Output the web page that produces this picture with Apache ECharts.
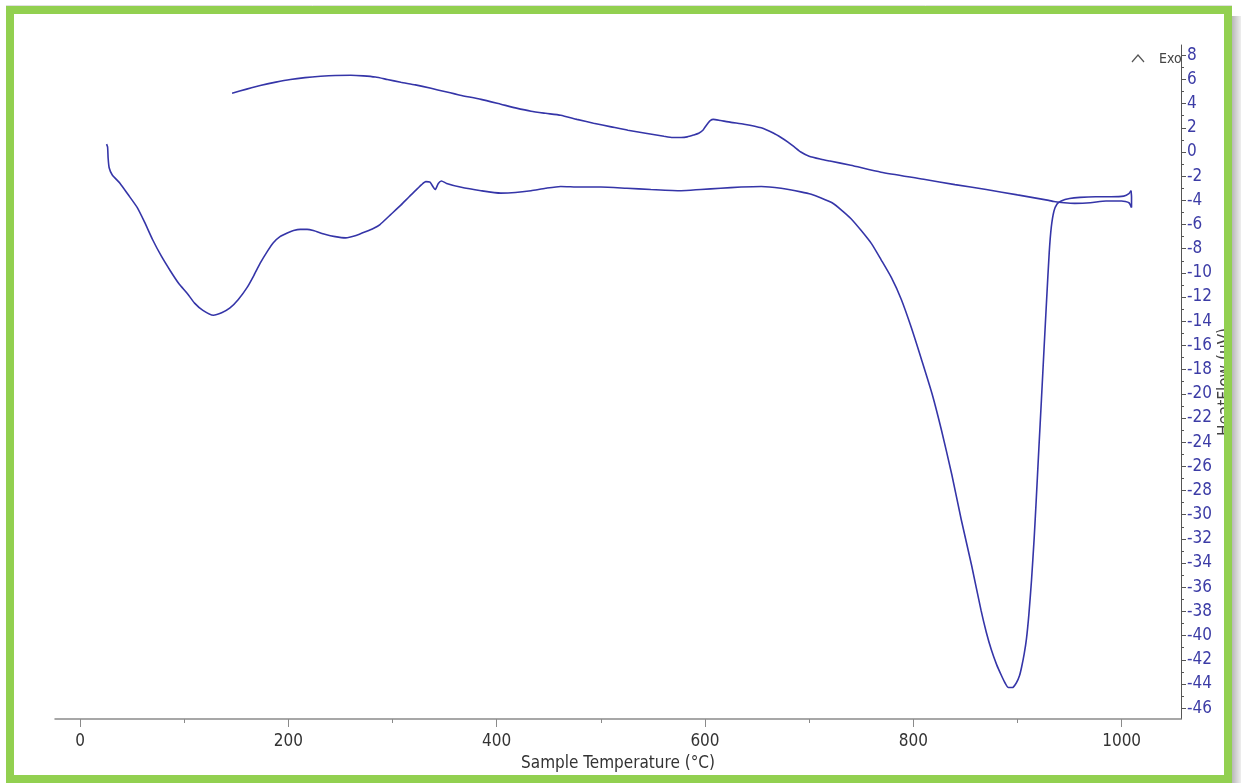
<!DOCTYPE html>
<html>
<head>
<meta charset="utf-8">
<script src="https://cdn.jsdelivr.net/npm/echarts@6/dist/echarts.min.js"></script>
<style>
html,body{margin:0;padding:0;background:#fff;}
#chart{width:1241px;height:783px;}
</style>
</head>
<body>
<div id="chart"></div>
<script>
// Heating segment (°C, µV)
const heatTemp = [25.5,26.5,27,28,31,38.5,46,55,62,70,78,86.5,95,103,110,118,128,136,144,152,160.5,167,173,180,185.6,192,199,205,211.5,218,224,235,245,255,265,274,282,288,298,308,316,322,328,332,336,341,344,347,352,365,385,404,418,433,447,461.5,480,500,525,548,577,596,615,634.6,654,673,692,702,711.5,722,731,740,750,760,769,779,788.5,798,808,818,827,837,846,856,865,870,875,880,884.6,888,891.3,895,899,902,904,906.5,908.6,911,913.5,916,918,920.5,923,925.5,928,930.5,932.5,935,938,942,950,960,975,990,1002,1007,1009];
const heatFlow = [0.65,0.4,-0.5,-1.3,-1.9,-2.6,-3.5,-4.6,-5.8,-7.3,-8.6,-9.8,-10.9,-11.7,-12.5,-13.1,-13.5,-13.3,-12.9,-12.2,-11.2,-10.2,-9.2,-8.2,-7.5,-7.0,-6.7,-6.5,-6.4,-6.4,-6.5,-6.8,-7.0,-7.1,-6.9,-6.6,-6.3,-6.0,-5.2,-4.4,-3.7,-3.2,-2.7,-2.45,-2.5,-3.1,-2.6,-2.4,-2.6,-2.9,-3.2,-3.4,-3.35,-3.2,-3.0,-2.85,-2.9,-2.9,-3.0,-3.1,-3.2,-3.1,-3.0,-2.9,-2.85,-3.0,-3.3,-3.5,-3.8,-4.2,-4.8,-5.5,-6.5,-7.6,-8.9,-10.4,-12.2,-14.5,-17.2,-20.0,-23,-26.7,-30.4,-34.2,-37.9,-39.7,-41.2,-42.4,-43.3,-43.9,-44.3,-44.3,-43.9,-43.3,-42.6,-41.5,-40.3,-38.2,-35.4,-32.0,-28.8,-24.6,-20.5,-16.3,-12.2,-8.3,-6.2,-4.9,-4.3,-4.05,-3.85,-3.75,-3.7,-3.7,-3.65,-3.45,-3.2];
// Cooling segment (°C, µV)
const coolTemp = [1009,1009.5,1009.5,1007,1000,985,970,955,945,935,930,900,870,840,810,769,740,720,711.5,700,692,686,680,673,666,654,637.5,625,615,608,605,603,600,598,594,589,583,577,569,560.6,543,526,510,493,477,461.5,447,433,418,404,385,365,350,337,322,308,295,283.6,272,260,245,231,216,202,188,173,160,146];
const coolFlow = [-3.2,-3.7,-4.6,-4.2,-4.05,-4.05,-4.2,-4.25,-4.2,-4.1,-4.0,-3.55,-3.1,-2.7,-2.25,-1.67,-1.1,-0.75,-0.6,-0.35,0.0,0.4,0.8,1.2,1.55,2.0,2.3,2.45,2.6,2.7,2.6,2.4,2.05,1.8,1.55,1.4,1.25,1.2,1.2,1.3,1.55,1.8,2.08,2.38,2.7,3.04,3.2,3.37,3.65,3.95,4.35,4.7,5.0,5.27,5.55,5.77,6.0,6.2,6.3,6.35,6.33,6.26,6.15,6.0,5.78,5.5,5.2,4.86];
const xMajorTicks = [0,200,400,600,800,1000];
const xMinorTicks = [100,300,500,700,900];
const yMajorTicks = [-46,-44,-42,-40,-38,-36,-34,-32,-30,-28,-26,-24,-22,-20,-18,-16,-14,-12,-10,-8,-6,-4,-2,0,2,4,6,8];
const yMinorTicks = [-45,-43,-41,-39,-37,-35,-33,-31,-29,-27,-25,-23,-21,-19,-17,-15,-13,-11,-9,-7,-5,-3,-1,1,3,5,7];

const heatData = heatTemp.map((t,i)=>[t,heatFlow[i]]);
const coolData = coolTemp.map((t,i)=>[t,coolFlow[i]]);

const FONT = "'Liberation Sans Narrow','Arial Narrow','DejaVu Sans Condensed','Roboto Condensed','Liberation Sans',sans-serif";
const XMIN = -24, XMAX = 1057, YMIN = -46.9, YMAX = 8.85;
const lineColor = '#3535a8';
const plain = v => String(v);

const chart = echarts.init(document.getElementById('chart'));
chart.setOption({
  backgroundColor: '#ffffff',
  animation: false,
  grid: {left: 55, right: 60, top: 45, bottom: 64, containLabel: false, outerBoundsMode: 'none'},
  xAxis: [{
    type: 'value', min: XMIN, max: XMAX, position: 'bottom',
    axisLine: {show: true, onZero: false, lineStyle: {color: '#8a8a8a', width: 1.5}},
    axisTick: {show: true, customValues: xMajorTicks, length: 8, lineStyle: {color: '#8a8a8a'}},
    axisLabel: {show: true, customValues: xMajorTicks, formatter: plain, color: '#333', fontFamily: FONT, fontSize: 17, margin: 14},
    splitLine: {show: false},
    name: 'Sample Temperature (°C)', nameLocation: 'middle', nameGap: 36, nameMoveOverlap: false,
    nameTextStyle: {color: '#333', fontFamily: FONT, fontSize: 17}
  },{
    type: 'value', min: XMIN, max: XMAX, position: 'bottom',
    axisLine: {show: false, onZero: false},
    axisTick: {show: true, customValues: xMinorTicks, length: 4, lineStyle: {color: '#8a8a8a'}},
    axisLabel: {show: false},
    splitLine: {show: false}
  }],
  yAxis: [{
    type: 'value', min: YMIN, max: YMAX, position: 'right',
    axisLine: {show: true, onZero: false, lineStyle: {color: '#555', width: 1}},
    axisTick: {show: true, customValues: yMajorTicks, length: 5, lineStyle: {color: '#555'}},
    axisLabel: {show: true, customValues: yMajorTicks, formatter: plain, color: '#3c3ca6', fontFamily: FONT, fontSize: 17, margin: 6},
    splitLine: {show: false},
    name: 'HeatFlow (µV)', nameLocation: 'middle', nameRotate: 90, nameGap: 36, nameMoveOverlap: false,
    nameTextStyle: {color: '#444', fontFamily: FONT, fontSize: 17}
  },{
    type: 'value', min: YMIN, max: YMAX, position: 'right',
    axisLine: {show: false, onZero: false},
    axisTick: {show: true, customValues: yMinorTicks, length: 3, lineStyle: {color: '#555'}},
    axisLabel: {show: false},
    splitLine: {show: false}
  }],
  series: [{
    name: 'Heating', type: 'line', data: heatData, showSymbol: false, smooth: 0.2,
    lineStyle: {color: lineColor, width: 1.6}, xAxisIndex: 0, yAxisIndex: 0
  },{
    name: 'Cooling', type: 'line', data: coolData, showSymbol: false, smooth: 0.2,
    lineStyle: {color: lineColor, width: 1.6}, xAxisIndex: 0, yAxisIndex: 0
  }],
  graphic: [
    {type: 'polyline', z: 50, shape: {points: [[1132,62],[1138,55],[1144,62]]}, style: {stroke: '#555', lineWidth: 1.2, fill: null}},
    {type: 'text', z: 50, x: 1159, y: 52, style: {text: 'Exo', fill: '#444', font: "14px " + FONT}},
    {type: 'rect', z: 99, shape: {x: 1232, y: 16, width: 9, height: 767},
      style: {fill: new echarts.graphic.LinearGradient(0,0,1,0,[{offset:0,color:'#b8b8b8'},{offset:1,color:'#eeeeee'}])}},
    {type: 'line', z: 99, shape: {x1: 6, y1: 5.5, x2: 1232, y2: 5.5}, style: {stroke: '#e0e0e0', lineWidth: 1}},
    {type: 'rect', z: 100, shape: {x: 10, y: 10, width: 1218, height: 769},
      style: {fill: null, stroke: '#92d050', lineWidth: 8}}
  ]
});
</script>
</body>
</html>
